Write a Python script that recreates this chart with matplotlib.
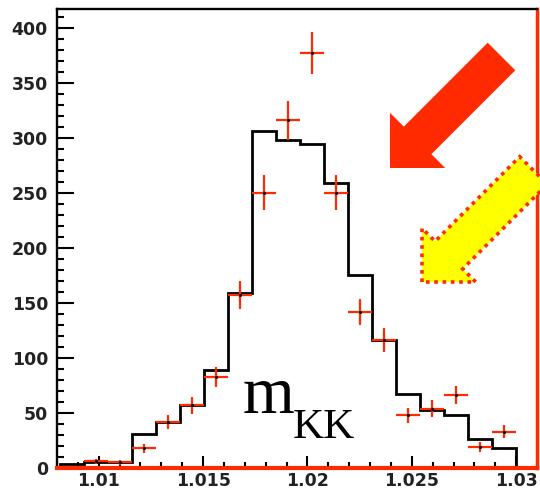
import numpy as np
import matplotlib
matplotlib.use('Agg')
import matplotlib.pyplot as plt
from matplotlib.patches import FancyArrow
from matplotlib.transforms import IdentityTransform
from matplotlib.ticker import MultipleLocator, FixedLocator, FixedFormatter

# histogram binning (20 bins)
bin_lo, bin_hi, n_bins = 1.007, 1.030, 20

# MC histogram (black step line)
mc_counts = [0, 4, 5, 5, 31, 42, 57, 89, 159, 306,
             298, 294, 259, 175, 116, 67, 53, 48, 26, 18]
# data points (red crosses)
data_counts = [0, 0, 6, 5, 18, 42, 57, 83, 157, 250,
               316, 377, 250, 142, 116, 48, 54, 66, 19, 33]

xtick_vals = [1.01, 1.015, 1.02, 1.025, 1.03]
xtick_labels = ['1.01', '1.015', '1.02', '1.025', '1.03']
ytick_vals = [0, 50, 100, 150, 200, 250, 300, 350, 400]

red = '#ff2a00'

fig = plt.figure(figsize=(5.4, 4.97), dpi=100)
ax = fig.add_axes([57/540, 1-468/497, 480/540, 459/497])

edges = np.linspace(bin_lo, bin_hi, n_bins + 1)
centers = 0.5 * (edges[:-1] + edges[1:])
half = 0.5 * (edges[1] - edges[0])

ax.stairs(mc_counts, edges, baseline=0, color='black', lw=2.0, zorder=2)

dc = np.array(data_counts, dtype=float)
m = dc > 0
ax.errorbar(centers[m], dc[m], yerr=np.sqrt(dc[m]), xerr=half,
            fmt='.', color='black', ms=2.5, ecolor=red, elinewidth=1.6,
            capsize=0, zorder=3)

ax.set_xlim(1.008, 1.031)
ax.set_ylim(0, 417)

ax.xaxis.set_major_locator(FixedLocator(xtick_vals))
ax.xaxis.set_major_formatter(FixedFormatter(xtick_labels))
ax.xaxis.set_minor_locator(MultipleLocator(0.001))
ax.yaxis.set_major_locator(FixedLocator(ytick_vals))
ax.yaxis.set_minor_locator(MultipleLocator(10))

ax.tick_params(axis='both', which='both', direction='in', top=False, right=False,
               color='black', width=1.5)
ax.tick_params(axis='y', which='major', length=12, pad=6.5)
ax.tick_params(axis='y', which='minor', length=5)
ax.tick_params(axis='x', which='major', length=8.5, pad=3)
ax.tick_params(axis='x', which='minor', length=4)
for lab in ax.get_xticklabels() + ax.get_yticklabels():
    lab.set_fontweight('bold')
    lab.set_fontsize(12.5)
    lab.set_color('#222222')

ax.spines['left'].set_linewidth(1.7)
ax.spines['top'].set_linewidth(1.7)
ax.spines['bottom'].set_color(red)
ax.spines['bottom'].set_linewidth(3)
ax.spines['bottom'].set_zorder(4)
ax.spines['right'].set_color(red)
ax.spines['right'].set_linewidth(2.5)

# m_KK label: main letter plus lowered subscript
ax.text(1.01691, 50, 'm', fontsize=48, family='Liberation Serif',
        ha='left', va='baseline', color='black')
ax.annotate('KK', xy=(1.01691, 50), xytext=(36, -18), textcoords='offset points',
            fontsize=31, family='Liberation Serif', ha='left', va='baseline',
            color='black')

# arrows (pixel coordinates, origin bottom-left)
H = 497
arrow_red = FancyArrow(501.5, H - 56.5, -111.5, -111.5, width=39,
                       head_width=78, head_length=39,
                       length_includes_head=True, color=red, lw=0,
                       transform=IdentityTransform())
fig.add_artist(arrow_red)

arrow_yel = FancyArrow(533.5, H - 170.5, -111.5, -111.5, width=39,
                       head_width=76, head_length=38,
                       length_includes_head=True, facecolor='#ffff00',
                       edgecolor=red, lw=2.6, linestyle=(0, (1, 1.3)),
                       transform=IdentityTransform())
fig.add_artist(arrow_yel)

fig.savefig('out.png', dpi=100)
plt.close(fig)
